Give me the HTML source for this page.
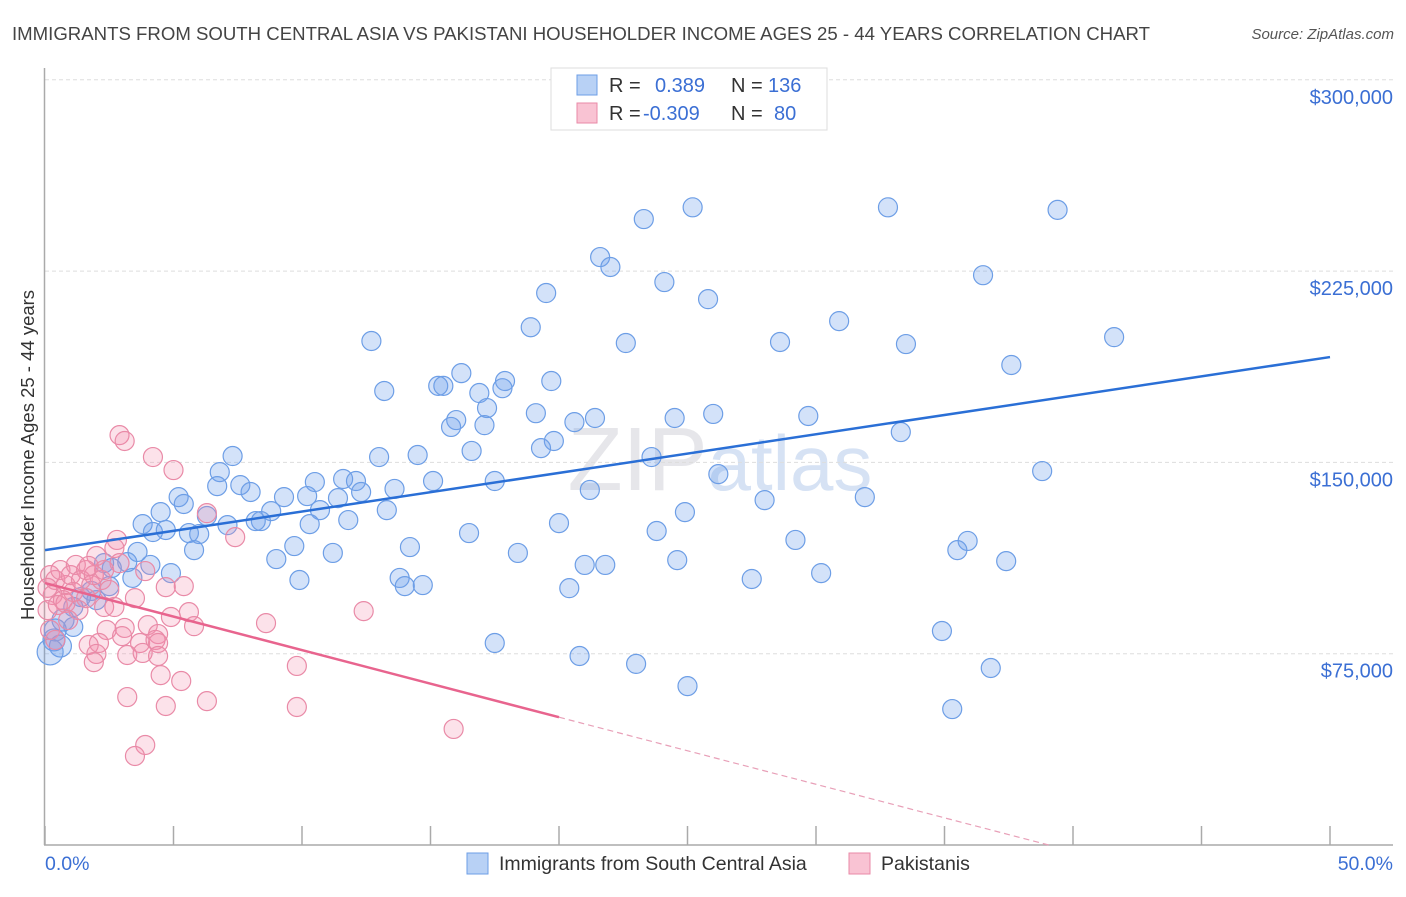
<!DOCTYPE html>
<html><head><meta charset="utf-8"><style>
body{margin:0;background:#fff;font-family:"Liberation Sans",sans-serif}
svg text{font-family:"Liberation Sans",sans-serif}
</style></head><body>
<svg width="1406" height="892" xmlns="http://www.w3.org/2000/svg">
<text x="12" y="40" font-size="18.5" fill="#444" textLength="1138" lengthAdjust="spacingAndGlyphs">IMMIGRANTS FROM SOUTH CENTRAL ASIA VS PAKISTANI HOUSEHOLDER INCOME AGES 25 - 44 YEARS CORRELATION CHART</text>
<text x="1394" y="39" font-size="15" fill="#555" text-anchor="end" font-style="italic">Source: ZipAtlas.com</text>
<text x="720" y="490" font-size="90" fill="#e6e6ea" text-anchor="middle" font-family="Liberation Serif">ZIP<tspan fill="#d6e2f4" font-family="Liberation Sans" font-size="78">atlas</tspan></text>
<g id="grid"></g>
<g id="axes"></g>
<g id="pts"></g>
<g id="lines"></g>
<text transform="translate(34,455) rotate(-90)" font-size="18.5" fill="#333" text-anchor="middle">Householder Income Ages 25 - 44 years</text>
<text x="45" y="870" font-size="19.5" fill="#3b6fd4">0.0%</text>
<text x="1393" y="870" font-size="19.5" fill="#3b6fd4" text-anchor="end">50.0%</text>
<g>
<rect x="551" y="68" width="276" height="62" fill="#fff" stroke="#ddd"/>
<rect x="577" y="75" width="20" height="20" fill="#b8d1f5" stroke="#6d9ee6"/>
<rect x="577" y="103" width="20" height="20" fill="#f9c3d3" stroke="#e98aa7"/>
<text x="609" y="92" font-size="20" fill="#333">R = <tspan fill="#3b6fd4" x="655">0.389</tspan><tspan x="731">N = </tspan><tspan fill="#3b6fd4" x="768">136</tspan></text>
<text x="609" y="120" font-size="20" fill="#333">R = <tspan fill="#3b6fd4" x="643">-0.309</tspan><tspan x="731">N = </tspan><tspan fill="#3b6fd4" x="774">80</tspan></text>
</g>
<g>
<rect x="467" y="853" width="21" height="21" fill="#b8d1f5" stroke="#6d9ee6"/>
<text x="499" y="870" font-size="19.5" fill="#333">Immigrants from South Central Asia</text>
<rect x="849" y="853" width="21" height="21" fill="#f9c3d3" stroke="#e98aa7"/>
<text x="881" y="870" font-size="19.5" fill="#333">Pakistanis</text>
</g>
</svg>
<script>
const yTicks=[75000,150000,225000,300000];
const yTickLabels=["$75,000","$150,000","$225,000","$300,000"];
const xTicks=[0,5,10,15,20,25,30,35,40,45,50];
const blueX=[23.3,25.2,32.8,39.4,21.6,22.0,24.1,36.5,19.5,25.8,18.9,30.9,12.7,22.6,28.6,33.5,41.6,37.6,16.2,15.3,15.5,17.9,17.8,19.7,13.2,16.9,17.2,19.1,16.0,17.1,15.8,20.6,21.4,24.5,26.0,29.7,33.3,19.8,19.3,16.6,14.5,13.0,7.3,23.6,38.8,6.8,26.2,6.7,7.6,8.0,10.5,11.6,12.1,12.3,13.6,15.1,17.5,21.2,11.4,10.2,9.3,5.2,5.4,8.8,10.7,13.3,31.9,28.0,4.5,6.3,8.4,8.2,11.8,10.3,3.8,7.1,20.0,24.9,4.2,4.7,5.6,6.0,16.5,23.8,29.2,35.9,9.7,14.2,35.5,3.6,11.2,18.4,5.8,3.2,9.0,24.6,37.4,4.1,21.0,21.8,4.9,30.2,2.3,2.6,9.9,13.8,3.4,27.5,14.0,14.7,20.4,2.5,1.8,1.4,2.0,1.1,0.7,1.1,0.4,0.35,0.6,0.2,34.9,17.5,20.8,23.0,36.8,25.0,35.3];
const blueY=[245.4,250,250,249,230.5,226.6,220.7,223.4,216.4,214,203,205.4,197.6,196.8,197.2,196.4,199.1,188.2,185,180,180,181.9,179.1,181.9,178,177.2,171.3,169.3,166.6,164.6,163.9,165.8,167.4,167.4,169,168.2,161.9,158.4,155.6,154.5,152.9,152.1,152.5,152.1,146.6,146.2,145.4,140.7,141.1,138.4,142.3,143.5,142.7,138.4,139.6,142.7,142.7,139.2,136,136.8,136.4,136.4,133.7,130.9,131.3,131.3,136.4,135.2,130.5,129,127,127,127.4,125.8,125.8,125.4,126.2,130.5,122.7,123.5,122.3,121.9,122.3,123.1,119.6,119.2,117.2,116.8,115.6,114.9,114.5,114.5,115.6,110.9,112.1,111.7,111.3,109.8,109.8,109.8,106.6,106.6,110.5,108.6,103.9,104.7,104.7,104.3,101.5,101.9,100.7,101.5,99.6,97.2,96,93.3,88.2,85.5,84.3,80.4,78,75.7,83.9,79.2,74.1,71,69.4,62.3,53.3];
const pinkX=[2.9,3.1,4.2,5.0,6.3,7.4,2.8,2.7,2.0,2.9,3.9,2.2,4.7,5.4,3.5,2.3,2.7,12.4,5.6,4.9,4.0,8.6,5.8,3.1,2.4,3.0,4.4,3.7,4.3,4.4,2.1,1.7,2.0,3.2,3.8,4.4,1.9,9.8,4.5,5.3,3.2,6.3,4.7,9.8,15.9,3.9,3.5,0.2,0.4,0.6,0.8,1.0,1.2,1.4,1.6,1.8,0.3,0.7,1.1,1.6,0.1,0.5,1.9,2.3,0.2,0.4,0.8,1.3,1.7,2.5,0.1,0.9];
const pinkY=[160.7,158.4,152.1,147,130.1,120.7,119.6,116.4,113.3,110.5,107.4,103.9,101.1,101.5,96.8,93.3,93.3,91.7,91.3,89.4,86.2,87,85.8,85.1,84.3,81.9,82.7,79.2,80.4,79.2,79.2,78.4,74.9,74.5,75.3,74.1,71.7,70.2,66.6,64.3,58,56.4,54.5,54.1,45.5,39.2,34.9,105.8,103.9,107.8,101.9,105.8,109.8,103.9,107.8,101.9,98,96,99.2,96.8,92.1,94.1,105.8,107.8,84.3,80.4,94.9,92.1,109.4,100,100.8,88.2];
const blueTrend=[115.6,191.3];
const pinkTrend=[102.7,-2.63];
const NS="http://www.w3.org/2000/svg";
const X=p=>45+p*25.7, Y=v=>845-v*191.3/75;
function mk(t,a,p){const e=document.createElementNS(NS,t);for(const k in a)e.setAttribute(k,a[k]);document.getElementById(p).appendChild(e);return e;}
yTicks.forEach((v,i)=>{
 const l=mk('line',{x1:45,x2:1393,y1:Y(v/1000),y2:Y(v/1000),stroke:'#ddd','stroke-dasharray':'4,3'},'grid');
 
 
 const t=mk('text',{x:1393,y:Y(v/1000)+24,'font-size':20,fill:'#3b6fd4','text-anchor':'end'},'grid');
 t.textContent=yTickLabels[i];
 
 
});
mk('line',{x1:44.5,x2:44.5,y1:68,y2:845,stroke:'#aaa','stroke-width':1.5},'axes');
mk('line',{x1:44,x2:1393,y1:845,y2:845,stroke:'#aaa','stroke-width':1.5},'axes');
xTicks.forEach(p=>{const t=mk('line',{x1:X(p),x2:X(p),y1:826,y2:845,stroke:'#aaa','stroke-width':1.5},'axes');
 
 });
blueX.forEach((x,i)=>{const r=(x<1)?(x<0.3?13:11):9.5;
 const c=mk('circle',{cx:X(x),cy:Y(blueY[i]),r:r,fill:'rgba(110,160,235,0.3)',stroke:'#6d9ee6','stroke-width':1.2},'pts');
 
 });
pinkX.forEach((x,i)=>{
 const c=mk('circle',{cx:X(x),cy:Y(pinkY[i]),r:9.5,fill:'rgba(245,140,170,0.25)',stroke:'#e98aa7','stroke-width':1.2},'pts');
 
 });
const bl=mk('line',{x1:X(0),y1:Y(blueTrend[0]),x2:X(50),y2:Y(blueTrend[1]),stroke:'#2a6fd6','stroke-width':2.5},'lines');


const pe=20, pz=-pinkTrend[0]/pinkTrend[1];
const pl=mk('line',{x1:X(0),y1:Y(pinkTrend[0]),x2:X(pe),y2:Y(pinkTrend[0]+pinkTrend[1]*pe),stroke:'#e8648e','stroke-width':2.5},'lines');


const pd=mk('line',{x1:X(pe),y1:Y(pinkTrend[0]+pinkTrend[1]*pe),x2:X(pz),y2:Y(0),stroke:'#e8a0b8','stroke-width':1.2,'stroke-dasharray':'6,4'},'lines');


</script>
</body></html>
